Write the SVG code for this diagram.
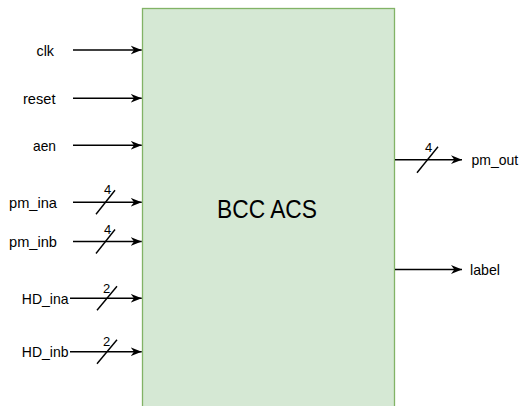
<svg xmlns="http://www.w3.org/2000/svg" width="524" height="406" viewBox="0 0 524 406">
<style>
text{font-family:"Liberation Sans",Arial,sans-serif;fill:#000}
.lbl{font-size:15px}
.bus{font-size:13px;text-anchor:middle}
.wire{stroke:#000;stroke-width:1.4;fill:none}
.slash{stroke:#000;stroke-width:1.4;fill:none}
</style>
<defs>
<marker id="arr" viewBox="0 0 10 10" refX="10" refY="5" markerWidth="11" markerHeight="11" markerUnits="userSpaceOnUse" orient="auto">
<path d="M0,1 L10,5 L0,9 L3,5 Z" fill="#000"/>
</marker>
</defs>
<g id="acs">
<rect x="142.5" y="8.5" width="252" height="420" fill="#d5e8d4" stroke="#82b366" stroke-width="1.3"/>
<text x="267" y="218" font-size="26" text-anchor="middle" textLength="100" lengthAdjust="spacingAndGlyphs">BCC ACS</text>
</g>
<g id="labels">
<text class="lbl" x="54" y="55.5" text-anchor="end" textLength="17.5" lengthAdjust="spacingAndGlyphs">clk</text>
<text class="lbl" x="55.5" y="103.5" text-anchor="end" textLength="32.5" lengthAdjust="spacingAndGlyphs">reset</text>
<text class="lbl" x="56" y="150.5" text-anchor="end" textLength="23" lengthAdjust="spacingAndGlyphs">aen</text>
<text class="lbl" x="57" y="207.5" text-anchor="end" textLength="48" lengthAdjust="spacingAndGlyphs">pm_ina</text>
<text class="lbl" x="57" y="246.5" text-anchor="end" textLength="48" lengthAdjust="spacingAndGlyphs">pm_inb</text>
<text class="lbl" x="68.5" y="303.5" text-anchor="end" textLength="46.7" lengthAdjust="spacingAndGlyphs">HD_ina</text>
<text class="lbl" x="68.5" y="357" text-anchor="end" textLength="46.7" lengthAdjust="spacingAndGlyphs">HD_inb</text>
<text class="lbl" x="471.5" y="165" textLength="46.7" lengthAdjust="spacingAndGlyphs">pm_out</text>
<text class="lbl" x="470" y="275" textLength="30" lengthAdjust="spacingAndGlyphs">label</text>
</g>
<g id="connectors">
<line class="wire" x1="73" y1="50" x2="141.7" y2="50" marker-end="url(#arr)"/>
<line class="wire" x1="73" y1="98.3" x2="141.7" y2="98.3" marker-end="url(#arr)"/>
<line class="wire" x1="73" y1="145.3" x2="141.7" y2="145.3" marker-end="url(#arr)"/>
<line class="wire" x1="73" y1="202.3" x2="141.7" y2="202.3" marker-end="url(#arr)"/>
<line class="wire" x1="73" y1="241.5" x2="141.7" y2="241.5" marker-end="url(#arr)"/>
<line class="wire" x1="70" y1="298.3" x2="141.7" y2="298.3" marker-end="url(#arr)"/>
<line class="wire" x1="70" y1="351.7" x2="141.7" y2="351.7" marker-end="url(#arr)"/>
<line class="wire" x1="395" y1="159.7" x2="462" y2="159.7" marker-end="url(#arr)"/>
<line class="wire" x1="395" y1="269.5" x2="462" y2="269.5" marker-end="url(#arr)"/>
<line class="slash" x1="96" y1="214.3" x2="115" y2="190.3"/>
<line class="slash" x1="96" y1="253.5" x2="115" y2="229.5"/>
<line class="slash" x1="97" y1="310.3" x2="117" y2="286.3"/>
<line class="slash" x1="97" y1="363.7" x2="117" y2="339.7"/>
<line class="slash" x1="417" y1="172.7" x2="438" y2="146.7"/>
<text class="bus" x="107.5" y="194">4</text>
<text class="bus" x="107.5" y="233.5">4</text>
<text class="bus" x="106.5" y="292.5">2</text>
<text class="bus" x="106.5" y="345.5">2</text>
<text class="bus" x="428.5" y="152">4</text>
</g>
</svg>
